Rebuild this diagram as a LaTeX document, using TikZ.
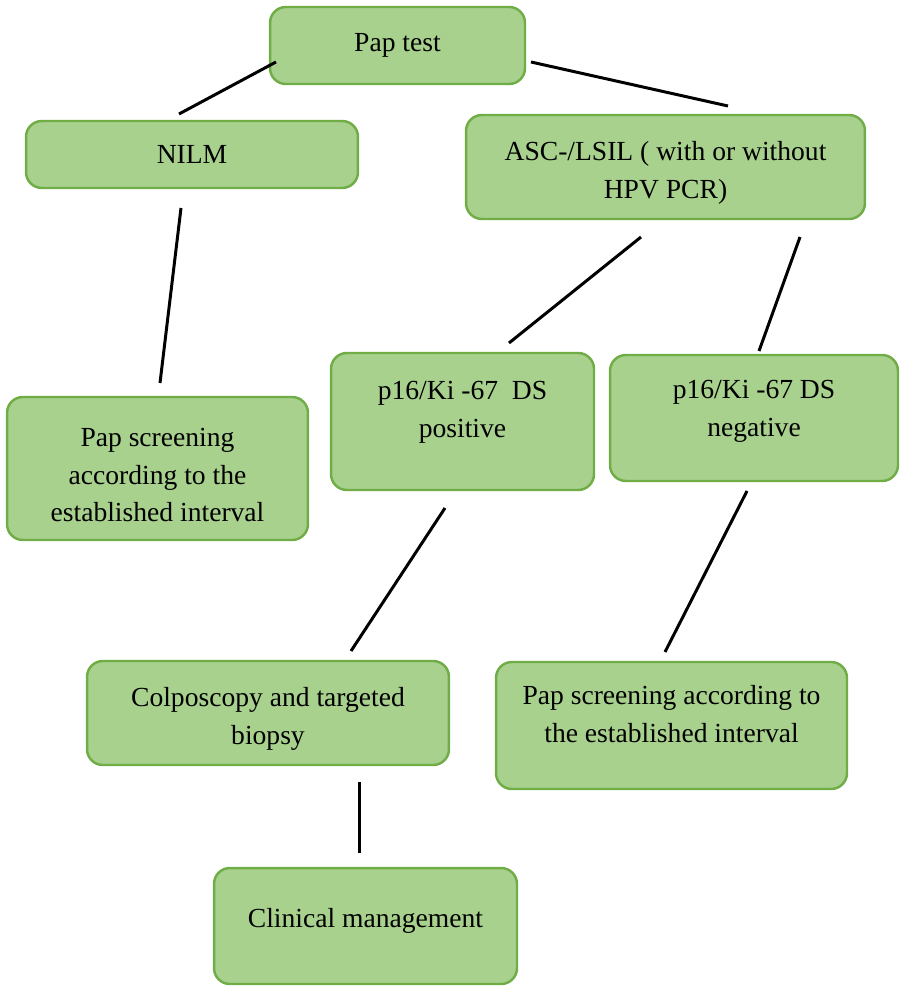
\documentclass[tikz,border=0pt]{standalone}
\usepackage{fontspec}
\setmainfont{Liberation Serif}
\usepackage{tikz}
\usetikzlibrary{positioning}
\usepackage{xcolor}
\definecolor{boxfill}{HTML}{A9D18E}
\definecolor{boxline}{HTML}{70AD47}
\tikzset{
  pbox/.style={draw=boxline, line width=1.4pt, fill=boxfill, rounded corners=9pt,
    align=center, inner sep=2pt, font=\fontsize{15.7}{21.5}\selectfont},
  link/.style={draw, line width=1.7pt, black}
}
\newcommand{\lift}[1]{\rule[-#1]{0pt}{0pt}}

\begin{document}
\begin{tikzpicture}[x=0.02cm,y=-0.02cm]
\useasboundingbox (0,0) rectangle (902,989);

% top row
\node[pbox, minimum width=5.1cm, minimum height=1.54cm] (pap) at (397.5,45.5) {Pap test};
\node[pbox, minimum width=6.64cm, minimum height=1.34cm] (nilm) at (192,154.5) {NILM};
\node[pbox, minimum width=7.98cm, minimum height=2.08cm] (asc) at (665.5,167) {\rule{0pt}{18pt}ASC-/LSIL ( with or without\\HPV PCR)};

% middle row
\node[pbox, minimum width=6.02cm, minimum height=2.86cm] (scrleft) at (157.5,468.5) {\rule{0pt}{18pt}Pap screening\\according to the\\established interval};
\node[pbox, minimum width=5.26cm, minimum height=2.74cm] (pos) at (462.5,421.5) {p16/Ki -67\ \ DS\\positive\lift{14pt}};
\node[pbox, minimum width=5.76cm, minimum height=2.52cm] (neg) at (754,418) {p16/Ki -67 DS\\negative\lift{11pt}};

% bottom rows
\node[pbox, minimum width=7.24cm, minimum height=2.08cm] (colpo) at (268,713) {\rule{0pt}{18pt}Colposcopy and targeted\\biopsy};
\node[pbox, minimum width=7.02cm, minimum height=2.54cm] (scrright) at (671.5,725.5) {Pap screening according to\\the established interval\lift{13pt}};
\node[pbox, minimum width=6.06cm, minimum height=2.32cm] (clin) at (365.5,926) {Clinical management\lift{9pt}};

% free ends of the connectors
\coordinate (a1) at (276,62);  \coordinate (a2) at (179,114);
\coordinate (b1) at (531,62);  \coordinate (b2) at (728,106);
\coordinate (c1) at (181,208); \coordinate (c2) at (160,383);
\coordinate (d1) at (641,237); \coordinate (d2) at (509,343);
\coordinate (e1) at (800,237); \coordinate (e2) at (759,351);
\coordinate (f1) at (445,508); \coordinate (f2) at (351,651);
\coordinate (g1) at (747,491); \coordinate (g2) at (665,652);
\coordinate (h1) at (359,782); \coordinate (h2) at (359,853);

\foreach \s in {a,b,c,d,e,f,g,h}{
  \draw[link] (\s1) -- (\s2);
}
\end{tikzpicture}
\end{document}
